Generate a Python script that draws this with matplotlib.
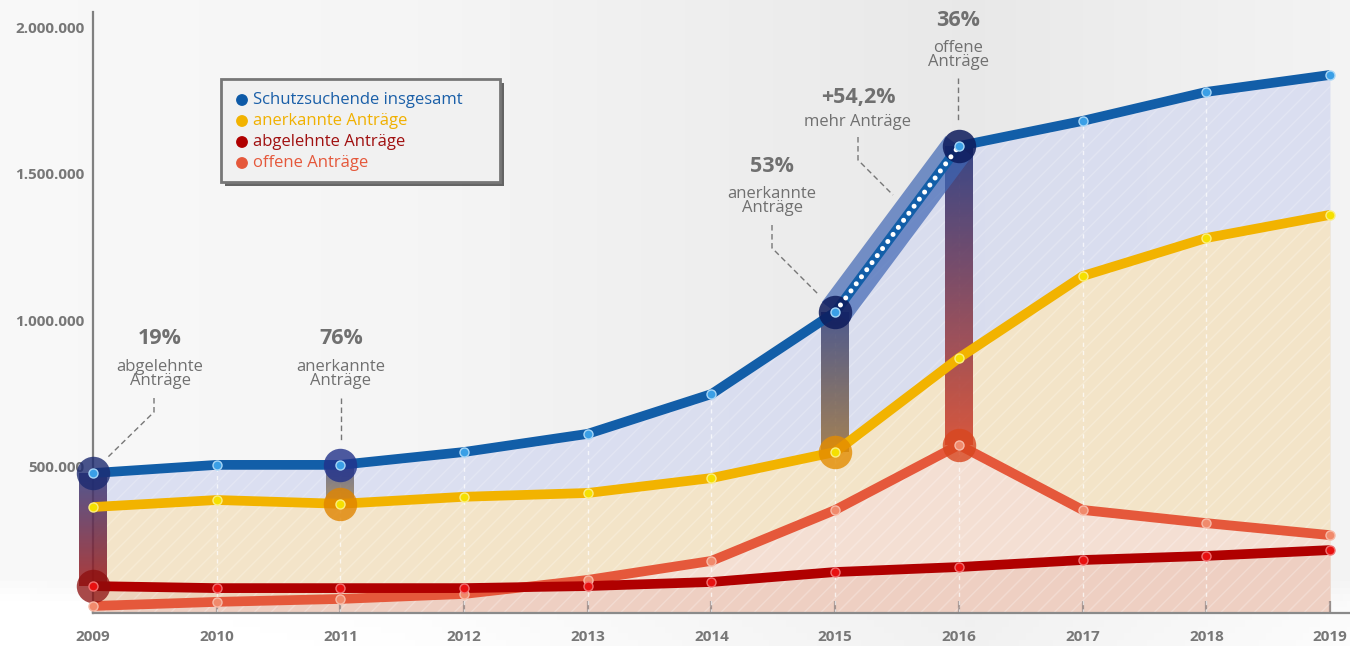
import numpy as np
import matplotlib
matplotlib.use("Agg")
import matplotlib.pyplot as plt
from matplotlib.colors import to_rgb
from matplotlib.patches import Rectangle, Circle

plt.rcParams['font.family'] = ['Open Sans', 'DejaVu Sans']
plt.rcParams['hatch.linewidth'] = 1.0

# ---------------- data ----------------
years = [2009, 2010, 2011, 2012, 2013, 2014, 2015, 2016, 2017, 2018, 2019]
schutzsuchende = [478000, 506000, 506000, 550000, 612000, 748000, 1028000, 1595000, 1681000, 1780000, 1838000]
anerkannt = [362000, 386000, 373000, 397000, 410000, 461000, 550000, 871000, 1151000, 1281000, 1360000]
abgelehnt = [92000, 85000, 85000, 85000, 92000, 106000, 140000, 157000, 181000, 195000, 215000]
offen = [24000, 38000, 48000, 65000, 113000, 178000, 352000, 574000, 352000, 307000, 266000]

series_names = ["Schutzsuchende insgesamt", "anerkannte Anträge", "abgelehnte Anträge", "offene Anträge"]
ytick_vals = [500000, 1000000, 1500000, 2000000]
ytick_labels = ["500.000", "1.000.000", "1.500.000", "2.000.000"]

C_BLUE = '#125ea8'
C_YEL = '#f2b300'
C_DRED = '#b00000'
C_ORG = '#e5583b'

W, H = 1350, 646
fig = plt.figure(figsize=(W / 100, H / 100), dpi=100)

# background gradient
bg = fig.add_axes([0, 0, 1, 1], zorder=0)
xs = np.linspace(0, 1, 400)
vals = np.interp(xs, [0, 0.3, 0.72, 0.86, 1.0], [0.975, 0.962, 0.912, 0.935, 0.955])
ys = np.linspace(0, 1, 100)
vy = np.interp(ys, [0, 0.06, 0.1, 1.0], [0.035, 0.03, 0.0, 0.0])
img = np.clip(vals[None, :] + vy[:, None], 0, 1)
bg.imshow(np.dstack([img, img, img]), aspect='auto', extent=[0, 1, 0, 1], origin='lower')
bg.axis('off')

# main axes
left_px, right_px, bot_px, top_px = 93, 1350, 613, 12
px_per_year = (1330 - 93) / 10
val_per_px = 3416
ax = fig.add_axes([left_px / W, (H - bot_px) / H, (right_px - left_px) / W, (bot_px - top_px) / H], zorder=1)
ax.patch.set_visible(False)
XLIM = (2009, 2009 + (right_px - left_px) / px_per_year)
YLIM = (0, (bot_px - top_px) * val_per_px)

yrs = np.array(years, dtype=float)
b = np.array(schutzsuchende, dtype=float)
y_ = np.array(anerkannt, dtype=float)
d = np.array(abgelehnt, dtype=float)
o = np.array(offen, dtype=float)

# fills
def hfill(vals, color, alpha, z, hatch_alpha=0.22):
    ax.fill_between(yrs, 0, vals, color=color, alpha=alpha, lw=0, zorder=z)
    ax.fill_between(yrs, 0, vals, facecolor='none', edgecolor=(1, 1, 1, hatch_alpha), hatch='//', lw=0, zorder=z + 0.05)

hfill(b, '#d5daf0', 0.8, 1)
hfill(y_, '#f8e6c2', 0.85, 1.2)
hfill(o, '#f5dfd6', 0.85, 1.4)
hfill(d, '#e2ab9b', 0.3, 1.6, 0.15)

# dashed white gridlines
for xi, bi in zip(yrs[1:-1], b[1:-1]):
    ax.plot([xi, xi], [0, bi], color='white', alpha=0.7, lw=1, ls=(0, (3, 3)), zorder=2)

# gradient highlight bars (image-based gradient)
bar_half = 14 / px_per_year
def gradbar(x, ytop, ybot, ctop, cbot, z=2.5, alpha=0.85):
    n = 128
    c0, c1 = np.array(to_rgb(ctop)), np.array(to_rgb(cbot))
    t = np.linspace(0, 1, n)[:, None]
    rgb = c0[None, :] * (1 - t) + c1[None, :] * t
    rgba = np.concatenate([rgb, np.full((n, 1), alpha)], axis=1)[:, None, :]
    im = ax.imshow(rgba, extent=[x - bar_half, x + bar_half, ybot, ytop], origin='upper',
                   aspect='auto', zorder=z, interpolation='bilinear')
    im.set_clip_on(False)

def endcircle(x, yv, color, alpha=0.8, z=4.5):
    ax.scatter([x], [yv], s=580, color=color, alpha=alpha, lw=0, zorder=z, clip_on=False)

i09, i11, i15, i16 = 0, 2, 6, 7
gradbar(yrs[i09], b[i09], d[i09], '#333a7e', '#a01a18')
gradbar(yrs[i11], b[i11], y_[i11], '#4a4f7a', '#9a7a3a', alpha=0.75)
gradbar(yrs[i15], b[i15], y_[i15], '#34427e', '#9a7038', alpha=0.85)
gradbar(yrs[i16], b[i16], o[i16], '#26367c', '#d4472e', alpha=0.9)

# translucent thick segment 2015-2016
ax.plot(yrs[i15:i16 + 1], b[i15:i16 + 1], color='#3f66b4', alpha=0.7, lw=24, solid_capstyle='butt', zorder=2.6)

# lines
lw = 7
ax.plot(yrs, o, color=C_ORG, lw=lw, zorder=3, solid_capstyle='butt')
ax.plot(yrs, d, color=C_DRED, lw=lw, zorder=3.1, solid_capstyle='butt')
ax.plot(yrs, y_, color=C_YEL, lw=lw, zorder=3.2, solid_capstyle='butt')
ax.plot(yrs, b, color=C_BLUE, lw=lw, zorder=3.3, solid_capstyle='butt')

# end circles
endcircle(yrs[i09], b[i09], '#1c2a70', 0.8)
endcircle(yrs[i09], d[i09], '#8c0d0d', 0.75)
endcircle(yrs[i11], b[i11], '#22328a', 0.8)
endcircle(yrs[i11], y_[i11], '#e08400', 0.8)
endcircle(yrs[i15], b[i15], '#0d1b5c', 0.85)
endcircle(yrs[i15], y_[i15], '#e38c00', 0.8)
endcircle(yrs[i16], b[i16], '#0d1b5c', 0.85)
endcircle(yrs[i16], o[i16], '#d8461f', 0.8)

# dotted white line
ax.plot(yrs[i15:i16 + 1], b[i15:i16 + 1], color='white', lw=3.6, ls=(0, (0.01, 1.75)),
        dash_capstyle='round', zorder=5)

# markers
mk = dict(marker='o', ms=6.5, mew=1.0, ls='none', zorder=6, clip_on=False)
ax.plot(yrs, o, mfc='#f08a6c', mec='#f7b9a6', **mk)
ax.plot(yrs, d, mfc='#e81010', mec='#f07070', **mk)
ax.plot(yrs, y_, mfc='#f5e000', mec='#fbee80', **mk)
ax.plot(yrs, b, mfc='#3a9fe6', mec='#a6d6f7', **mk)

ax.set_xlim(*XLIM)
ax.set_ylim(*YLIM)

# axes styling
for s in ['top', 'right']:
    ax.spines[s].set_visible(False)
ax.spines['left'].set_color('#808080')
ax.spines['left'].set_linewidth(1.6)
ax.spines['bottom'].set_color('#8a8a8a')
ax.spines['bottom'].set_linewidth(1.6)
ax.spines['left'].set_zorder(2.4)
ax.set_yticks(ytick_vals)
ax.set_yticklabels(ytick_labels)
ax.tick_params(axis='y', length=0, pad=6, labelsize=11, labelcolor='#777777')
for t in ax.get_yticklabels():
    t.set_fontweight('bold')
ax.set_xticks(years)
ax.set_xticklabels([str(v) for v in years])
ax.tick_params(axis='x', direction='in', length=9, width=1.6, color='#8a8a8a', pad=12,
               labelsize=11, labelcolor='#777777')
for t in ax.get_xticklabels():
    t.set_fontweight('bold')

# overlay for annotations and legend (pixel coordinates)
ov = fig.add_axes([0, 0, 1, 1], zorder=3)
ov.set_xlim(0, W)
ov.set_ylim(H, 0)
ov.axis('off')

AC = '#707070'
def note(xc, ytop, big, small):
    ov.text(xc, ytop, big, ha='center', va='center', fontsize=15.5, fontweight='bold', color=AC)
    ov.text(xc, ytop + 35, small, ha='center', va='center', fontsize=12, color=AC, linespacing=0.9)

note(160, 339, "19%", "abgelehnte\nAnträge")
note(341, 339, "76%", "anerkannte\nAnträge")
note(772, 166, "53%", "anerkannte\nAnträge")
ov.text(858, 97, "+54,2%", ha='center', va='center', fontsize=15.5, fontweight='bold', color=AC)
ov.text(858, 122, "mehr Anträge", ha='center', va='center', fontsize=12, color=AC)
note(958, 20, "36%", "offene\nAnträge")

lk = dict(color='#777777', lw=1, ls=(0, (4, 2.5)))
ov.plot([154, 154, 107], [398, 412, 458], **lk)
ov.plot([341, 341], [398, 440], **lk)
ov.plot([772, 772, 819], [225, 248, 295], **lk)
ov.plot([858, 858, 893], [137, 160, 195], **lk)
ov.plot([958, 958], [78, 123], **lk)

# legend box
ov.add_patch(Rectangle((225, 83), 279, 103, facecolor='#555555', edgecolor='none', alpha=0.9))
ov.add_patch(Rectangle((221, 79), 279, 103, facecolor='#f1f1f1', edgecolor='#777777', lw=2))
leg_dot = ['#0e5aa7', '#f2b300', '#b00000', '#e5583b']
leg_txt = ['#1a5fa8', '#f0b000', '#a01010', '#e5583b']
for k, name in enumerate(series_names):
    yy = 100 + k * 21
    ov.add_patch(Circle((242, yy), 5.2, color=leg_dot[k]))
    ov.text(253, yy, name, ha='left', va='center', fontsize=12, color=leg_txt[k])

fig.savefig('out.png', dpi=100)
